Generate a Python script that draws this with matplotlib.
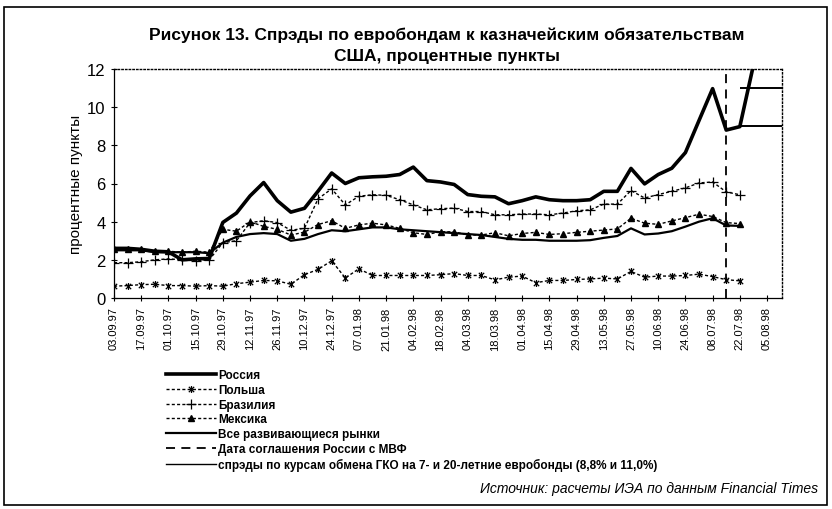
import numpy as np
import matplotlib
matplotlib.use('Agg')
import matplotlib.pyplot as plt
from matplotlib.path import Path
from matplotlib.patches import Rectangle
from matplotlib.lines import Line2D

plt.rcParams['font.family'] = ['Liberation Sans', 'DejaVu Sans']

# biweekly tick labels (data are weekly, 03.09.97 .. 12.08.98)
tick_labels = ['03.09.97', '17.09.97', '01.10.97', '15.10.97', '29.10.97', '12.11.97',
               '26.11.97', '10.12.97', '24.12.97', '07.01.98', '21.01.98', '04.02.98',
               '18.02.98', '04.03.98', '18.03.98', '01.04.98', '15.04.98', '29.04.98',
               '13.05.98', '27.05.98', '10.06.98', '24.06.98', '08.07.98', '22.07.98',
               '05.08.98']
n_weeks = 49

russia = [2.6, 2.6, 2.55, 2.45, 2.42, 2.0, 2.05, 2.07, 3.96, 4.45, 5.35, 6.05, 5.1, 4.5,
          4.7, 5.6, 6.55, 6.0, 6.3, 6.35, 6.38, 6.47, 6.86, 6.15, 6.08, 5.95, 5.42, 5.33,
          5.3, 4.94, 5.1, 5.3, 5.15, 5.1, 5.1, 5.15, 5.59, 5.59, 6.79, 5.98, 6.47, 6.8,
          7.62, 9.3, 10.97, 8.8, 8.98, 12.2]
poland = [0.62, 0.65, 0.7, 0.72, 0.65, 0.65, 0.62, 0.65, 0.62, 0.75, 0.83, 0.92, 0.9,
          0.72, 1.22, 1.5, 1.95, 1.05, 1.53, 1.18, 1.18, 1.18, 1.18, 1.18, 1.22, 1.28,
          1.18, 1.18, 0.95, 1.09, 1.15, 0.8, 0.92, 0.92, 0.97, 1.0, 1.04, 1.0, 1.39,
          1.09, 1.15, 1.15, 1.18, 1.25, 1.12, 0.96, 0.9]
brazil = [1.85, 1.85, 1.9, 2.0, 2.05, 2.0, 1.95, 2.0, 2.9, 3.0, 3.95, 4.05, 3.95, 3.55,
          3.65, 5.2, 5.72, 4.88, 5.33, 5.41, 5.38, 5.15, 4.88, 4.62, 4.68, 4.71, 4.53,
          4.53, 4.36, 4.36, 4.4, 4.4, 4.36, 4.45, 4.57, 4.62, 4.92, 4.92, 5.63, 5.24,
          5.42, 5.59, 5.77, 6.03, 6.08, 5.56, 5.41]
mexico = [2.55, 2.55, 2.55, 2.45, 2.45, 2.4, 2.45, 2.4, 3.6, 3.5, 4.0, 3.75, 3.6, 3.3,
          3.45, 3.85, 4.05, 3.65, 3.83, 3.92, 3.83, 3.65, 3.42, 3.33, 3.47, 3.47, 3.3,
          3.3, 3.42, 3.26, 3.38, 3.44, 3.33, 3.37, 3.44, 3.5, 3.56, 3.62, 4.18, 3.92,
          3.86, 4.04, 4.21, 4.39, 4.27, 3.95, 3.9]
emerging = [2.5, 2.5, 2.5, 2.4, 2.4, 2.4, 2.4, 2.35, 2.9, 3.2, 3.35, 3.4, 3.35, 3.0,
            3.1, 3.35, 3.55, 3.5, 3.6, 3.7, 3.7, 3.6, 3.55, 3.5, 3.45, 3.4, 3.35, 3.3,
            3.2, 3.1, 3.05, 3.05, 3.0, 3.0, 3.0, 3.03, 3.15, 3.25, 3.65, 3.33, 3.38,
            3.5, 3.74, 4.0, 4.18, 3.8, 3.78]

imf_week = 45        # 15.07.98
gko_week = 46        # 22.07.98
gko_levels = [9.0, 11.0]

labels = ['Россия', 'Польша', 'Бразилия', 'Мексика', 'Все развивающиеся рынки',
          'Дата соглашения России с МВФ',
          'спрэды по курсам обмена ГКО на 7- и 20-летние евробонды (8,8% и 11,0%)']

# Excel-like "star" marker: x with a vertical bar
star = Path([(-1, -1), (1, 1), (-1, 1), (1, -1), (0, -1.3), (0, 1.3)],
            [Path.MOVETO, Path.LINETO, Path.MOVETO, Path.LINETO, Path.MOVETO, Path.LINETO])

fig = plt.figure(figsize=(8.32, 5.10), dpi=100)
ax = fig.add_axes([114 / 832, 1 - 299 / 510, (782 - 114) / 832, (299 - 70) / 510])

dots = (0, (2.2, 1.6))
h_ru, = ax.plot(np.arange(len(russia)), russia, color='black', lw=2.6)
h_pl, = ax.plot(np.arange(len(poland)), poland, color='black', lw=1.0, ls=dots,
                marker=star, ms=5, mfc='none', mew=0.9)
h_br, = ax.plot(np.arange(len(brazil)), brazil, color='black', lw=1.0, ls=dots,
                marker='+', ms=7, mew=0.9)
h_mx, = ax.plot(np.arange(len(mexico)), mexico, color='black', lw=1.0, ls=dots,
                marker='^', ms=5, mfc='black')
h_em, = ax.plot(np.arange(len(emerging)), emerging, color='black', lw=1.6)
h_imf = ax.axvline(imf_week, color='black', lw=1.3, ls=(0, (5, 3.5)))
ax.hlines(gko_levels, gko_week, n_weeks + 0.1, color='black', lw=1.4)

ax.set_xlim(0, n_weeks + 0.1)
ax.set_ylim(0, 12)
ax.set_xticks(np.arange(0, n_weeks, 2))
ax.set_xticklabels(tick_labels, rotation=90, fontsize=8)
ax.set_yticks(np.arange(0, 13, 2))
ax.tick_params(axis='y', labelsize=12, direction='inout', length=5, width=0.8)
ax.tick_params(axis='x', direction='inout', length=4, width=0.8, pad=4)
ax.set_ylabel('процентные пункты', fontsize=11, labelpad=3)

for side in ['top', 'right']:
    ax.spines[side].set_linestyle(':')
    ax.spines[side].set_linewidth(1.0)
ax.spines['left'].set_linewidth(0.9)
ax.spines['bottom'].set_linewidth(0.9)

fig.text(0.537, 0.93, 'Рисунок 13. Спрэды по евробондам к казначейским обязательствам',
         ha='center', va='center', fontsize=12.5, fontweight='bold')
fig.text(0.537, 0.89, 'США, процентные пункты', ha='center', va='center',
         fontsize=12.5, fontweight='bold')

gko_handle = Line2D([], [], color='black', lw=1.0)
leg = fig.legend([h_ru, h_pl, h_br, h_mx, h_em, h_imf, gko_handle], labels,
                 loc='upper left', bbox_to_anchor=(166 / 832, 1 - 370 / 510),
                 frameon=False, fontsize=8.5, handlelength=4.2, handletextpad=0.2,
                 labelspacing=0.24, borderaxespad=0, borderpad=0)
for t in leg.get_texts():
    t.set_fontweight('bold')

fig.text(818 / 832, 1 - 489 / 510, 'Источник: расчеты ИЭА по данным Financial Times',
         ha='right', va='center', fontsize=10, style='italic')

fig.patches.append(Rectangle((4 / 832, 1 - 506 / 510), 823 / 832, 498 / 510,
                             transform=fig.transFigure, fill=False, ec='black', lw=1.2))

fig.savefig('out.png', dpi=100)
